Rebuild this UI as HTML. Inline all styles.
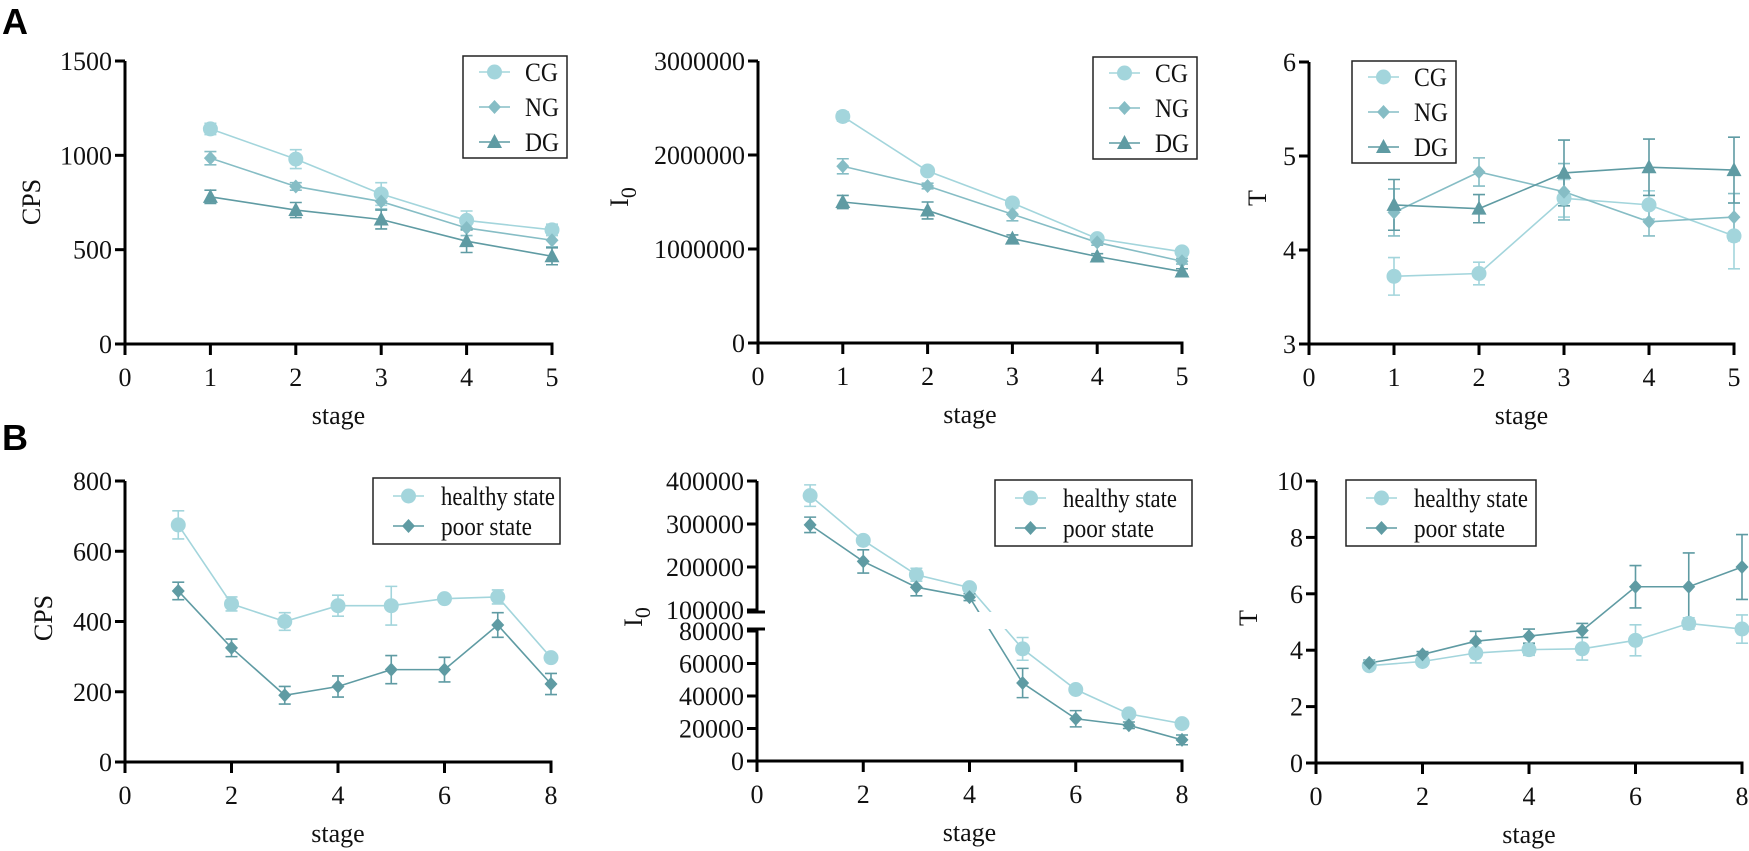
<!DOCTYPE html>
<html><head><meta charset="utf-8">
<style>
html,body{margin:0;padding:0;background:#fff;}
svg{display:block;font-family:"Liberation Serif",serif;}
</style></head>
<body>
<svg id="fig" width="1749" height="851" viewBox="0 0 1749 851" xmlns="http://www.w3.org/2000/svg">
<text x="2" y="34" font-family="Liberation Sans, sans-serif" font-weight="bold" font-size="36">A</text>
<text x="2" y="450" font-family="Liberation Sans, sans-serif" font-weight="bold" font-size="36">B</text>
</svg>
<script>
// ---- data ----
const stagesA = [1,2,3,4,5];
const stagesB = [1,2,3,4,5,6,7,8];
const groupNamesA = ["CG","NG","DG"];
const groupNamesB = ["healthy state","poor state"];
const cpsA_CG = [1140,980,795,655,605];
const cpsA_NG = [985,835,755,615,550];
const cpsA_DG = [780,710,660,545,465];
const cpsA_CG_err = [30,50,60,50,30];
const cpsA_NG_err = [35,20,40,40,35];
const cpsA_DG_err = [35,40,50,60,45];
const i0A_CG = [2410000,1830000,1490000,1110000,970000];
const i0A_NG = [1880000,1670000,1370000,1070000,870000];
const i0A_DG = [1500000,1410000,1110000,920000,760000];
const i0A_CG_err = [50000,30000,30000,30000,25000];
const i0A_NG_err = [80000,30000,70000,30000,30000];
const i0A_DG_err = [70000,90000,40000,30000,30000];
const tA_CG = [3.72,3.75,4.55,4.48,4.15];
const tA_NG = [4.4,4.83,4.62,4.3,4.35];
const tA_DG = [4.48,4.44,4.82,4.88,4.85];
const tA_CG_err = [0.2,0.12,0.2,0.15,0.35];
const tA_NG_err = [0.25,0.15,0.3,0.15,0.25];
const tA_DG_err = [0.27,0.15,0.35,0.3,0.35];
const cpsB_H = [675,450,400,445,445,465,470,297];
const cpsB_P = [487,325,190,215,263,263,390,222];
const cpsB_H_err = [40,20,25,30,55,10,20,10];
const cpsB_P_err = [25,25,25,30,40,35,35,30];
const i0B_H = [366000,262000,182000,152000,69000,44000,29000,23000];
const i0B_P = [298000,213000,153000,130000,48000,26000,22000,13000];
const i0B_H_err = [25000,8000,15000,8000,7000,2000,2000,2000];
const i0B_P_err = [18000,27000,20000,8000,9000,5000,2000,3000];
const tB_H = [3.45,3.6,3.9,4.02,4.05,4.35,4.95,4.75];
const tB_P = [3.55,3.85,4.32,4.5,4.7,6.25,6.25,6.95];
const tB_H_err = [0.1,0.1,0.35,0.2,0.4,0.55,0.2,0.5];
const tB_P_err = [0.1,0.1,0.35,0.25,0.25,0.75,1.2,1.15];
const ticksCpsA = [0,500,1000,1500];
const ticksI0A = [0,1000000,2000000,3000000];
const ticksTA = [3,4,5,6];
const ticksCpsB = [0,200,400,600,800];
const ticksI0Bhi = [100000,200000,300000,400000];
const ticksI0Blo = [0,20000,40000,60000,80000];
const ticksTB = [0,2,4,6,8,10];
const xticksA = [0,1,2,3,4,5];
const xticksB = [0,2,4,6,8];

const COL = {CG:"#a3d5dc",NG:"#86bdc5",DG:"#5f9ba3",H:"#a3d5dc",P:"#5f9ba3"};
const NS="http://www.w3.org/2000/svg";
const svg=document.getElementById('fig');
function mk(tag,attrs,parent){const e=document.createElementNS(NS,tag);for(const k in attrs)e.setAttribute(k,attrs[k]);(parent||svg).appendChild(e);return e;}

function marker(g,shape,cx,cy,color){
  let e;
  if(shape==='circle'){e=mk('circle',{cx,cy,r:7.5,fill:color},g);}
  else if(shape==='diamond'){e=mk('polygon',{points:`${cx},${cy-7} ${cx+6.5},${cy} ${cx},${cy+7} ${cx-6.5},${cy}`,fill:color},g);}
  else {e=mk('polygon',{points:`${cx},${cy-8} ${cx+7.5},${cy+6} ${cx-7.5},${cy+6}`,fill:color},g);}
  return e;
}

function panel(cfg){
  const g=mk('g',{});
  
  
  const X=v=>cfg.x0+(v-cfg.xmin)/(cfg.xmax-cfg.xmin)*(cfg.x1-cfg.x0);
  const Y=cfg.Y;
  cfg.series.forEach(s=>{
    const sg=mk('g',{},g);
    
    
    const pts=s.vals.map((v,i)=>X(cfg.xs[i])+','+Y(v)).join(' ');
    const pl=mk('polyline',{points:pts,fill:'none',stroke:s.color,'stroke-width':1.6},sg);
    
    
    s.vals.forEach((v,i)=>{
      const x=X(cfg.xs[i]);const e=s.err[i];
      const eb=mk('path',{d:`M${x},${Y(v+e)}V${Y(v-e)}M${x-6},${Y(v+e)}H${x+6}M${x-6},${Y(v-e)}H${x+6}`,stroke:s.color,'stroke-width':1.6,fill:'none'},sg);
      
      
    });
  });
  if(cfg.gap){const r=mk('rect',{x:cfg.x0+3,y:cfg.gap[0],width:cfg.x1-cfg.x0+20,height:cfg.gap[1]-cfg.gap[0],fill:'#fff'},g);
    }
  cfg.series.forEach(s=>{
    s.vals.forEach((v,i)=>{
      const m=marker(g,s.shape,X(cfg.xs[i]),Y(v),s.color);
      
      
    });
  });
  const ax=mk('g',{stroke:'#000','stroke-width':3,fill:'none'},g);
  
  
  const yb=cfg.ybottom;
  if(cfg.gap){
    mk('line',{x1:cfg.x0,y1:cfg.ytop,x2:cfg.x0,y2:cfg.gap[0]},ax);
    mk('line',{x1:cfg.x0,y1:cfg.gap[1],x2:cfg.x0,y2:yb+1.5},ax);
    mk('line',{x1:cfg.x0-10,y1:cfg.gap[0],x2:cfg.x0+8,y2:cfg.gap[0]},ax);
    mk('line',{x1:cfg.x0-10,y1:cfg.gap[1],x2:cfg.x0+8,y2:cfg.gap[1]},ax);
  } else mk('line',{x1:cfg.x0,y1:cfg.ytop,x2:cfg.x0,y2:yb+1.5},ax);
  mk('line',{x1:cfg.x0-1.5,y1:yb,x2:cfg.x1+1.5,y2:yb},ax);
  cfg.yticks.forEach(t=>{
    const y=Y(t);
    mk('line',{x1:cfg.x0-10,y1:y,x2:cfg.x0,y2:y},ax);
    const tx=mk('text',{x:cfg.x0-13,y:y+9,'font-size':26,'text-anchor':'end',fill:'#111'},g);
    tx.textContent=t;
    
    
  });
  cfg.xticks.forEach(t=>{
    const x=X(t);
    mk('line',{x1:x,y1:yb,x2:x,y2:yb+11},ax);
    const tx=mk('text',{x:x,y:yb+42,'font-size':26,'text-anchor':'middle',fill:'#111'},g);
    tx.textContent=t;
    
    
  });
  const xt=mk('text',{x:(cfg.x0+cfg.x1)/2,y:yb+80,'font-size':26,'text-anchor':'middle',fill:'#111'},g);
  xt.textContent='stage';
  
  
  const ytx=cfg.ytitleX, yty=cfg.ytitleY;
  const yt=mk('text',{x:ytx,y:yty,'font-size':26,'text-anchor':'middle',fill:'#111',transform:`rotate(-90 ${ytx} ${yty})`},g);
  
  
  if(cfg.ytitle==='I0'){yt.textContent='I';const sub=mk('tspan',{dy:8,'font-size':22},yt);sub.textContent='0';}
  else yt.textContent=cfg.ytitle;
  const L=cfg.legend;
  const lg=mk('g',{},g);
  
  
  mk('rect',{x:L.x,y:L.y,width:L.w,height:L.h,fill:'#fff',stroke:'#222','stroke-width':1.5},lg);
  cfg.series.forEach((s,i)=>{
    const ry=L.y+L.first+i*L.step;
    const e=mk('g',{},lg);
    
    
    mk('line',{x1:L.x+L.lx,y1:ry,x2:L.x+L.lx+31,y2:ry,stroke:s.color,'stroke-width':1.6},e);
    marker(e,s.shape,L.x+L.lx+15.5,ry,s.color);
    const t=mk('text',{x:L.x+L.tx,y:ry+9,'font-size':26,fill:'#111',textLength:s.tl,lengthAdjust:'spacingAndGlyphs'},e);
    t.textContent=s.label;
  });
}
function linY(vmin,vmax,ybot,ytop){return v=>ybot-(v-vmin)/(vmax-vmin)*(ybot-ytop);}
const legA=(x,y)=>({x:x,y:y,w:104,h:102,first:16,step:35,lx:16,tx:62});
const legB=(x,y,w)=>({x:x,y:y,w:w,h:66,first:18,step:30,lx:20,tx:68});

panel({name:'chart-a-cps',x0:125,x1:552,xmin:0,xmax:5,ytop:61,ybottom:344,Y:linY(0,1500,344,61),
  yticks:ticksCpsA,xticks:xticksA,xs:stagesA,ytitle:'CPS',ytitleX:40,ytitleY:202,
  legend:legA(463,56),
  series:[{key:'CG',label:groupNamesA[0],tl:33,vals:cpsA_CG,err:cpsA_CG_err,color:COL.CG,shape:'circle'},
          {key:'NG',label:groupNamesA[1],tl:34,vals:cpsA_NG,err:cpsA_NG_err,color:COL.NG,shape:'diamond'},
          {key:'DG',label:groupNamesA[2],tl:34,vals:cpsA_DG,err:cpsA_DG_err,color:COL.DG,shape:'triangle'}]});
panel({name:'chart-a-i0',x0:758,x1:1182,xmin:0,xmax:5,ytop:61,ybottom:343,Y:linY(0,3000000,343,61),
  yticks:ticksI0A,xticks:xticksA,xs:stagesA,ytitle:'I0',ytitleX:628,ytitleY:197,
  legend:legA(1093,57),
  series:[{key:'CG',label:groupNamesA[0],tl:33,vals:i0A_CG,err:i0A_CG_err,color:COL.CG,shape:'circle'},
          {key:'NG',label:groupNamesA[1],tl:34,vals:i0A_NG,err:i0A_NG_err,color:COL.NG,shape:'diamond'},
          {key:'DG',label:groupNamesA[2],tl:34,vals:i0A_DG,err:i0A_DG_err,color:COL.DG,shape:'triangle'}]});
panel({name:'chart-a-t',x0:1309,x1:1734,xmin:0,xmax:5,ytop:62,ybottom:344,Y:linY(3,6,344,62),
  yticks:ticksTA,xticks:xticksA,xs:stagesA,ytitle:'T',ytitleX:1266,ytitleY:198,
  legend:legA(1352,61),
  series:[{key:'CG',label:groupNamesA[0],tl:33,vals:tA_CG,err:tA_CG_err,color:COL.CG,shape:'circle'},
          {key:'NG',label:groupNamesA[1],tl:34,vals:tA_NG,err:tA_NG_err,color:COL.NG,shape:'diamond'},
          {key:'DG',label:groupNamesA[2],tl:34,vals:tA_DG,err:tA_DG_err,color:COL.DG,shape:'triangle'}]});
panel({name:'chart-b-cps',x0:125,x1:551,xmin:0,xmax:8,ytop:481,ybottom:762,Y:linY(0,800,762,481),
  yticks:ticksCpsB,xticks:xticksB,xs:stagesB,ytitle:'CPS',ytitleX:52,ytitleY:618,
  legend:legB(373,478,187),
  series:[{key:'H',label:groupNamesB[0],tl:114,vals:cpsB_H,err:cpsB_H_err,color:COL.H,shape:'circle'},
          {key:'P',label:groupNamesB[1],tl:91,vals:cpsB_P,err:cpsB_P_err,color:COL.P,shape:'diamond'}]});
function yB2(v){
  if(v>=100000) return 610-(v-100000)/300000*129;
  if(v<=80000) return 761-v/80000*130;
  return 631-(v-80000)/20000*21;
}
panel({name:'chart-b-i0',x0:757,x1:1182,xmin:0,xmax:8,ytop:481,ybottom:761,Y:yB2,gap:[612,629],
  yticks:ticksI0Bhi.concat(ticksI0Blo),xticks:xticksB,xs:stagesB,ytitle:'I0',ytitleX:642,ytitleY:617,
  legend:legB(995,480,197),
  series:[{key:'H',label:groupNamesB[0],tl:114,vals:i0B_H,err:i0B_H_err,color:COL.H,shape:'circle'},
          {key:'P',label:groupNamesB[1],tl:91,vals:i0B_P,err:i0B_P_err,color:COL.P,shape:'diamond'}]});
panel({name:'chart-b-t',x0:1316,x1:1742,xmin:0,xmax:8,ytop:481,ybottom:763,Y:linY(0,10,763,481),
  yticks:ticksTB,xticks:xticksB,xs:stagesB,ytitle:'T',ytitleX:1257,ytitleY:618,
  legend:legB(1346,480,190),
  series:[{key:'H',label:groupNamesB[0],tl:114,vals:tB_H,err:tB_H_err,color:COL.H,shape:'circle'},
          {key:'P',label:groupNamesB[1],tl:91,vals:tB_P,err:tB_P_err,color:COL.P,shape:'diamond'}]});
</script>
</body></html>
